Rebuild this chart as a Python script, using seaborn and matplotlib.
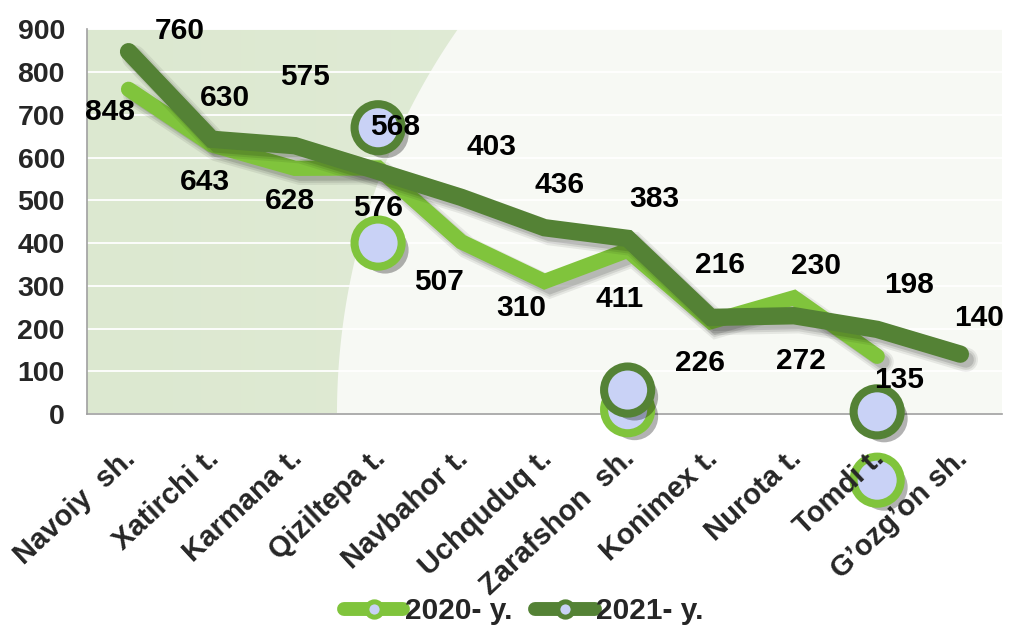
import numpy as np
import pandas as pd
import seaborn as sns
import matplotlib
matplotlib.use('Agg')
import matplotlib.pyplot as plt
import matplotlib.patheffects as pe
from matplotlib.lines import Line2D
from matplotlib.patches import Polygon
from matplotlib.transforms import ScaledTranslation

# districts of Navoiy region
districts = ['Navoiy  sh.', 'Xatirchi t.', 'Karmana t.', 'Qiziltepa t.', 'Navbahor t.',
             'Uchquduq t.', 'Zarafshon  sh.', 'Konimex t.', 'Nurota t.', 'Tomdi t.',
             'G\u2019ozg\u2019on sh.']
values_2020 = [760, 630, 575, 576, 403, 310, 383, 216, 272, 135, np.nan]
values_2021 = [848, 643, 628, 568, 507, 436, 411, 226, 230, 198, 140]

# where the original put each value label, pixels (right, down) from its point
label_off_2020 = [(51, -58), (13, -47), (10, -91), (0, 40), (30, -95), (-23, 26),
                  (27, -51), (9, -57), (7, 63), (22, 24), None]
label_off_2021 = [(-19, 60), (-7, 43), (-5, 55), (17, -44), (-22, 85), (15, -43),
                  (-8, 61), (-11, 46), (22, -50), (32, -44), (19, -36)]

# stray markers left behind in the original chart
marker_x_2020 = [3, 6, 9]
marker_y_2020 = [400, 10, -155]
marker_x_2021 = [3, 6, 9]
marker_y_2021 = [670, 56, 5]

light = '#80c43c'
dark = '#548235'
marker_face = '#c9d2f6'

sns.set_style('white')
plt.rcParams['font.family'] = ['Liberation Sans', 'DejaVu Sans']
plt.rcParams['font.weight'] = 'bold'

fig = plt.figure(figsize=(10.09, 6.26), dpi=100)
ax = fig.add_axes([0.0862, 0.3387, 0.9068, 0.6142])
ax.set_facecolor('#f7f9f4')

n = len(districts)
x = np.arange(n)
ax.set_xlim(-0.5, n - 0.5)
ax.set_ylim(0, 900)

# green backdrop on the left, bounded by a circular arc
ax_w, ax_h = 915.0, 384.5
cx, r = 1010.0 - 87, 673.0
ys = np.linspace(0, ax_h, 60)
xs = cx - np.sqrt(r ** 2 - ys ** 2)
pts = [(0, 0)] + [(px / ax_w, py / ax_h) for px, py in zip(xs, ys)] + [(0, 1)]
poly = Polygon(pts, closed=True, transform=ax.transAxes, facecolor='none', edgecolor='none')
ax.add_patch(poly)
grad = np.linspace(0, 1, 256).reshape(1, -1)
cmap = matplotlib.colors.LinearSegmentedColormap.from_list('bg', ['#dce8d0', '#e4eedb'])
img = ax.imshow(grad, cmap=cmap, extent=[0, 1, 0, 1], transform=ax.transAxes,
                aspect='auto', zorder=0)
img.set_clip_path(poly)

ax.set_yticks(range(0, 901, 100))
ax.grid(axis='y', color='white', linewidth=1.3, zorder=0.5)
ax.set_axisbelow(True)

series = [(values_2020, light, 11), (values_2021, dark, 12.5)]
for vals, col, lw in series:
    sns.lineplot(x=x, y=vals, color=col, linewidth=lw, ax=ax, zorder=3)
    line = ax.lines[-1]
    line.set_solid_capstyle('round')
    line.set_solid_joinstyle('miter')
    line.set_path_effects([
        pe.SimpleLineShadow(offset=(4, -4), shadow_color='black', alpha=0.07, linewidth=lw + 5),
        pe.SimpleLineShadow(offset=(4, -4), shadow_color='black', alpha=0.09, linewidth=lw + 2),
        pe.SimpleLineShadow(offset=(4, -4), shadow_color='black', alpha=0.12, linewidth=lw - 1),
        pe.Normal()])

mshadow = [pe.SimplePatchShadow(offset=(5, -5), shadow_rgbFace='black', alpha=0.3), pe.Normal()]
for mx, my, col in [(marker_x_2020, marker_y_2020, light), (marker_x_2021, marker_y_2021, dark)]:
    sns.scatterplot(x=mx, y=my, s=1150, color=marker_face, edgecolor=col,
                    linewidth=5.8, ax=ax, zorder=4)
    coll = ax.collections[-1]
    coll.set_clip_on(False)
    coll.set_path_effects(mshadow)

for vals, offs in [(values_2020, label_off_2020), (values_2021, label_off_2021)]:
    for i, (v, off) in enumerate(zip(vals, offs)):
        if off is None or np.isnan(v):
            continue
        ax.annotate(f'{v:.0f}', xy=(i, v), xytext=(off[0] * 0.72, -off[1] * 0.72),
                    textcoords='offset points', ha='center', va='center',
                    fontsize=21.5, fontweight='bold', color='black', zorder=5,
                    annotation_clip=False)

for s in ['top', 'right']:
    ax.spines[s].set_visible(False)
for s in ['left', 'bottom']:
    ax.spines[s].set_color('#a0a0a0')
    ax.spines[s].set_linewidth(1.2)

ax.set_xticks(x)
ax.set_xticklabels(districts, rotation=43, ha='right', va='center',
                   rotation_mode='anchor', fontsize=21, fontweight='bold')
ax.set_xticks(np.arange(-0.5, n, 1), minor=True)
ax.tick_params(axis='x', which='major', length=0, pad=29)
ax.tick_params(axis='x', which='minor', length=6, width=1.2, color='#a0a0a0')
ax.tick_params(axis='y', length=6, width=1.2, color='#a0a0a0', pad=10, labelsize=20.5)
for t in ax.get_yticklabels():
    t.set_fontweight('bold')
shift = ScaledTranslation(3 / 100, 0, fig.dpi_scale_trans)
for t in ax.get_xticklabels():
    t.set_transform(t.get_transform() + shift)
# category names sit on top of the stray markers
ax.xaxis.set_zorder(5)
ax.set_xlabel('')
ax.set_ylabel('')

handles = [Line2D([], [], color=light, lw=10, marker='o', ms=11, mfc=marker_face,
                  mec=light, mew=3.6, solid_capstyle='round'),
           Line2D([], [], color=dark, lw=10, marker='o', ms=11, mfc=marker_face,
                  mec=dark, mew=3.6, solid_capstyle='round')]
fig.legend(handles, ['2020- y.', '2021- y.'], loc='center', bbox_to_anchor=(0.519, 0.024),
           ncol=2, frameon=False, handlelength=2.0, handletextpad=0.05,
           columnspacing=0.75, prop={'size': 21.5, 'weight': 'bold'})

fig.savefig('out.png', dpi=100)
